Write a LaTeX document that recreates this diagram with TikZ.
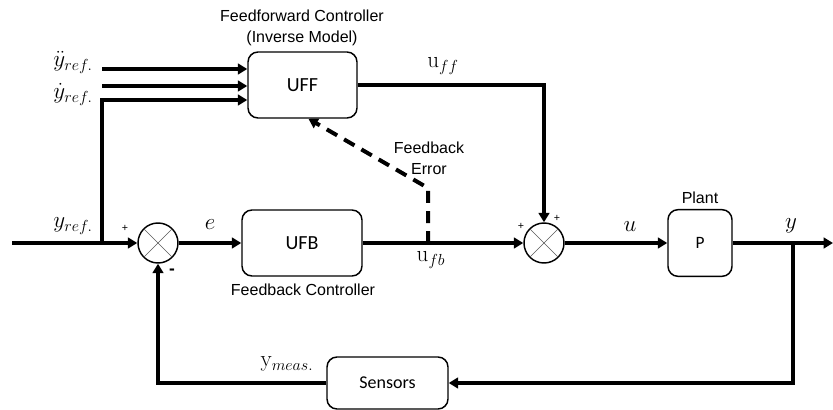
\documentclass[tikz,border=0pt]{standalone}
\usepackage[no-math]{fontspec}
\setmainfont{Liberation Sans}
\newfontfamily\boxfont{Carlito}
\usetikzlibrary{arrows.meta,calc}

\begin{document}
\begin{tikzpicture}[x=0.75pt,y=-0.75pt,
  block/.style={draw, line width=1.1pt, rounded corners=7.5pt, inner sep=0pt,
    font=\boxfont\fontsize{15}{18}\selectfont},
  sumjn/.style={draw, circle, line width=1.1pt, minimum size=30pt, inner sep=0pt},
  cross/.style={line width=0.5pt, black!65},
  sig/.style={line width=3pt, -{Triangle[length=7pt,width=8pt]}},
  fbe/.style={line width=3pt, dash pattern=on 9pt off 6pt, -{Triangle[length=7pt,width=8pt]}},
  lbl/.style={font=\fontsize{12}{15.5}\selectfont, align=center, inner sep=0pt},
  mlbl/.style={font=\fontsize{18}{20}\selectfont, inner sep=0pt},
  sgn/.style={font=\fontsize{8}{9}\selectfont, inner sep=0pt}
]
\useasboundingbox (0,0) rectangle (833,410);

% blocks
\node[block, minimum width=81.75pt, minimum height=49.5pt] (UFF) at (302.5,85) {UFF};
\node[block, minimum width=90pt, minimum height=49.5pt] (UFB) at (302,243) {UFB};
\node[block, minimum width=48pt, minimum height=50pt, font=\boxfont\fontsize{13}{15}\selectfont] (P) at (700,243) {P};
\node[block, minimum width=90.75pt, minimum height=39pt, font=\boxfont\fontsize{13.5}{16}\selectfont] (S) at (387.5,383) {Sensors};

% summing junctions
\node[sumjn] (s1) at (158,243) {};
\node[sumjn] (s2) at (544,243) {};
\foreach \s in {s1,s2}{
  \draw[cross] (\s.45) -- (\s.225);
  \draw[cross] (\s.135) -- (\s.-45);
}

% junction points and free ends
\coordinate (in) at (12,243);
\coordinate (tap) at (102,243);
\coordinate (dd) at (102,69);
\coordinate (d) at (102,86);
\coordinate (r) at (102,100);
\coordinate (ytap) at (793,243);
\coordinate (out) at (833,243);
\coordinate (ybot) at (793,383);
\coordinate (mbot) at (158,383);
\coordinate (ufbtap) at (428,243);
\coordinate (bend) at (428,188);
\coordinate (ffc) at (544,85);

% reference inputs to the inverse model
\draw[sig] (dd) -- (dd -| UFF.west);
\draw[sig] (d) -- (d -| UFF.west);
\draw[sig] (tap) -- (r) -- (r -| UFF.west);

% forward path
\draw[sig] (in) -- (s1.west);
\draw[sig] (s1.east) -- (UFB.west);
\draw[sig] (UFB.east) -- (s2.west);
\draw[sig] (UFF.east) -- (ffc) -- (s2.north);
\draw[sig] (s2.east) -- (P.west);
\draw[sig] (P.east) -- (out);

% measurement loop
\draw[sig] (ytap) -- (ybot) -- (S.east);
\draw[sig] (S.west) -- (mbot) -- (s1.south);

% feedback error used to train the inverse model
\draw[fbe] (ufbtap) -- (bend) -- (UFF.-80);

% captions
\node[lbl] at (302,28) {Feedforward Controller\\(Inverse Model)};
\node[lbl] at (303,290) {Feedback Controller};
\node[lbl] at (700,198) {Plant};
\node[lbl] at (429,158) {Feedback\\Error};

% signal names
\node[mlbl, anchor=base] at (73,67) {$\ddot{y}_{ref.}$};
\node[mlbl, anchor=base] at (73,99) {$\dot{y}_{ref.}$};
\node[mlbl] at (73,226) {$y_{ref.}$};
\node[mlbl] at (210,225) {$e$};
\node[mlbl] at (443,66) {$\mathrm{u}_{ff}$};
\node[mlbl] at (431,260) {$\mathrm{u}_{fb}$};
\node[mlbl] at (630,227) {$u$};
\node[mlbl] at (791,226) {$y$};
\node[mlbl] at (287,364) {$\mathrm{y}_{meas.}$};

% junction signs
\node[sgn] at (125,228) {+};
\node[font=\fontsize{13}{14}\bfseries\selectfont, inner sep=0pt] at (172,272) {-};
\node[sgn] at (521,226) {+};
\node[sgn] at (557,218) {+};
\end{tikzpicture}
\end{document}
